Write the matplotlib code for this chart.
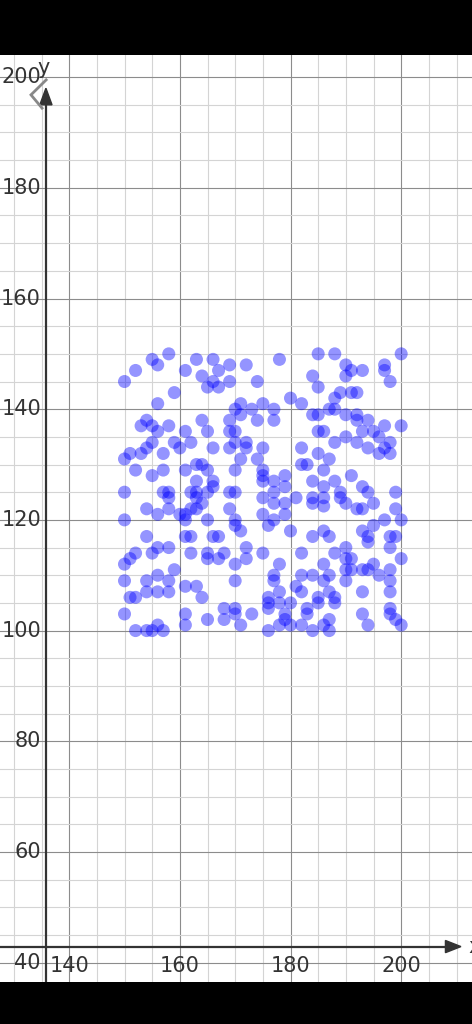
import matplotlib
matplotlib.use('Agg')
import matplotlib.pyplot as plt
import numpy as np

# points (x, y)
points = [
    (150,145),(152,147),(155,149),(156,148),(158,150),(159,143),(156,141),(161,147),(163,149),(164,146),
    (166,149),(167,147),(169,148),(172,148),(166,145),(165,144),(167,144),(169,145),(174,145),(171,141),
    (170,140),(173,140),(171,139),(174,138),(169,138),(169,136),(170,136),(154,138),(153,137),(155,137),
    (156,136),(158,137),(161,136),(164,138),(165,136),
    (178,149),(185,150),(188,150),(190,148),(191,147),(193,147),(190,146),(184,146),(185,144),(197,148),
    (197,147),(198,145),(200,150),(189,143),(188,142),(191,143),(192,143),(180,142),(182,141),(175,141),
    (177,140),(177,138),(184,139),(185,139),(187,140),(188,140),(190,139),(192,139),(192,138),(194,138),
    (197,137),(200,137),(185,136),(186,136),(190,135),(193,136),(195,136),(196,135),
    (155,134),(159,134),(162,134),(170,134),(172,134),(172,133),(151,132),(150,131),(153,132),(154,133),
    (157,132),(160,133),(166,133),(169,133),(171,131),(152,129),(155,128),(157,129),(161,129),(163,130),
    (164,130),(165,129),(170,129),(163,127),(166,127),(166,126),(150,125),(157,125),(158,125),(158,124),
    (162,125),(163,125),(163,124),(165,125),(169,125),(170,125),(154,122),(156,121),(158,122),(162,122),
    (163,122),(164,123),(160,121),(161,121),(161,120),(165,120),(169,122),(170,120),(170,119),(150,120),
    (154,117),(161,117),(162,117),(166,117),(167,117),(171,118),
    (156,115),(158,115),(155,114),(152,114),(151,113),(150,112),(162,114),(165,114),(165,113),(167,113),
    (168,114),(172,115),(172,113),(170,112),(159,111),(156,110),(154,109),(158,109),(150,109),(154,107),
    (156,107),(158,107),(161,108),(163,108),(164,106),(170,109),(151,106),(152,106),(150,103),(161,103),
    (161,101),(165,102),(168,104),(170,104),(170,103),(168,102),(171,101),(173,103),(152,100),(154,100),
    (155,100),(156,101),(157,100),
    (174,131),(175,133),(182,133),(185,132),(188,134),(192,134),(194,133),(196,132),(198,134),(198,132),
    (197,133),(182,130),(183,130),(187,131),(186,129),(175,129),(175,128),(175,127),(177,127),(179,128),
    (179,126),(184,127),(188,127),(186,126),(191,128),(193,126),(194,125),(199,125),(175,124),(177,125),
    (177,123),(179,123),(181,124),(184,124),(184,123),(186,124),(186,122.5),(189,125),(189,124),(190,123),
    (192,122),(193,122),(195,123),(199,122),(175,121),(177,120),(179,121),(176,119),(180,118),(184,117),
    (186,118),(187,117),(193,118),(194,117),(195,119),(197,120),(200,120),(198,117),(199,117),
    (194,116),(198,115),(175,114),(182,114),(188,114),(190,115),(190,113),(191,113),(178,112),(177,110),
    (177,109),(186,112),(190,111),(191,111),(193,111),(194,111),(195,112),(200,113),(198,111),(196,110),
    (198,109),(198,107),(190,109),(182,110),(184,110),(187,110),(186,109),(181,108),(182,107),(187,107),
    (188,106),(188,105),(185,106),(185,105),(193,107),(178,107),(176,106),(176,105),(176,104),(178,105),
    (180,105),(183,104),(183,103),(179,103),(179,102),(178,101),(176,100),(180,101),(182,101),(184,100),
    (186,101),(187,102),(187,100),(193,103),(194,101),(198,104),(198,103),(199,102),(200,101),
]
x_vals = [p[0] for p in points]
y_vals = [p[1] for p in points]

x_ticks = [140, 160, 180, 200]
y_ticks = [40, 60, 80, 100, 120, 140, 160, 180, 200]

xmin, xmax = 127.5, 212.8
ymin, ymax = 36.5, 204.0
x_axis_y = 42.9
y_axis_x = 135.8

fig = plt.figure(figsize=(4.72, 10.24), dpi=100, facecolor='black')
ax = fig.add_axes([0, 42/1024, 1, 927/1024])
ax.set_facecolor('white')
ax.set_xlim(xmin, xmax)
ax.set_ylim(ymin, ymax)
ax.set_xticks([])
ax.set_yticks([])
for s in ax.spines.values():
    s.set_visible(False)

# grid
for gx in np.arange(130, 215, 5):
    major = gx % 20 == 0
    ax.axvline(gx, color='#8c8c8c' if major else '#d4d4d4', lw=0.8, zorder=0)
for gy in np.arange(40, 205, 5):
    major = gy % 20 == 0
    ax.axhline(gy, color='#8c8c8c' if major else '#d4d4d4', lw=0.8, zorder=0)

# axes with arrows
ax.plot([xmin, 208.5], [x_axis_y, x_axis_y], color='#333333', lw=1.6, zorder=2)
ax.plot([y_axis_x, y_axis_x], [ymin, 195.5], color='#333333', lw=1.6, zorder=2)
ax.fill([208.0, 210.8, 208.0], [x_axis_y - 1.1, x_axis_y, x_axis_y + 1.1], color='#333333', zorder=2)
ax.fill([y_axis_x - 1.1, y_axis_x, y_axis_x + 1.1], [195.0, 198.0, 195.0], color='#333333', zorder=2)
ax.plot([135.84, 133.1, 135.1], [199.5, 196.8, 194.4], color='#888888', lw=2, zorder=2,
        solid_joinstyle='miter')

# tick labels
for t in x_ticks:
    ax.text(t, 39.4, str(t), ha='center', va='center', fontsize=15, color='#333333', zorder=3)
for t in y_ticks:
    ax.text(134.9, t, str(t), ha='right', va='center', fontsize=15, color='#333333', zorder=3)
ax.text(135.3, 201.6, 'y', ha='center', va='center', fontsize=15, color='#333333', zorder=3)
ax.text(212.2, x_axis_y, 'x', ha='left', va='center', fontsize=15, color='#333333', zorder=3)

ax.scatter(x_vals, y_vals, s=88, color='#0000ff', alpha=0.42, edgecolors='none', zorder=4)

fig.savefig('out.png', dpi=100, facecolor='black')
